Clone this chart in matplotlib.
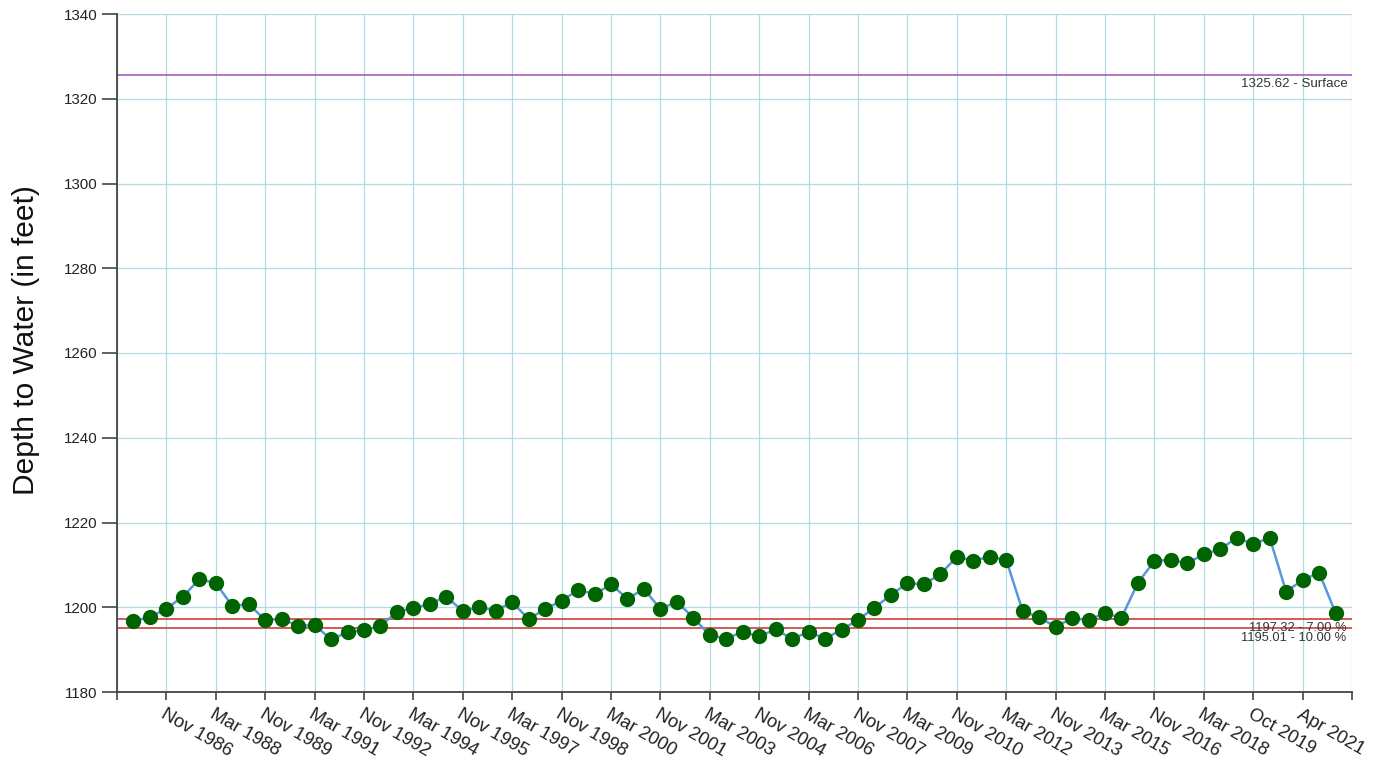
import matplotlib
matplotlib.use("Agg")
import matplotlib.pyplot as plt

plt.rcParams['font.family'] = ['Liberation Sans', 'DejaVu Sans']

# Semi-annual depth-to-water readings (feet), in measurement order
depth = [
    1196.8, 1197.6, 1199.7, 1202.5, 1206.6, 1205.7, 1200.3, 1200.7, 1197.0, 1197.2,
    1195.6, 1195.8, 1192.4, 1194.1, 1194.6, 1195.6, 1198.9, 1199.8, 1200.8, 1202.5,
    1199.1, 1200.1, 1199.2, 1201.2, 1197.2, 1199.6, 1201.5, 1204.1, 1203.1, 1205.4,
    1202.0, 1204.3, 1199.6, 1201.3, 1197.5, 1193.4, 1192.6, 1194.2, 1193.1, 1194.8,
    1192.5, 1194.2, 1192.6, 1194.7, 1197.0, 1199.9, 1202.9, 1205.7, 1205.4, 1207.8,
    1211.9, 1211.0, 1211.9, 1211.2, 1199.1, 1197.6, 1195.4, 1197.4, 1197.0, 1198.6,
    1197.5, 1205.8, 1210.9, 1211.2, 1210.4, 1212.5, 1213.7, 1216.4, 1214.9, 1216.4,
    1203.7, 1206.4, 1208.2, 1198.7,
]

tick_labels = [
    "Nov 1986", "Mar 1988", "Nov 1989", "Mar 1991", "Nov 1992", "Mar 1994",
    "Nov 1995", "Mar 1997", "Nov 1998", "Mar 2000", "Nov 2001", "Mar 2003",
    "Nov 2004", "Mar 2006", "Nov 2007", "Mar 2009", "Nov 2010", "Mar 2012",
    "Nov 2013", "Mar 2015", "Nov 2016", "Mar 2018", "Oct 2019", "Apr 2021",
]

# Reference levels: (value, label, colour)
ref_levels = [
    (1325.62, "1325.62 - Surface", "#a35fc2"),
    (1197.32, "1197.32 - 7.00 %", "#c9403a"),
    (1195.01, "1195.01 - 10.00 %", "#c9403a"),
]

y_ticks = list(range(1180, 1341, 20))

W, H = 1383, 766
fig = plt.figure(figsize=(W / 100, H / 100), dpi=100)
ax = fig.add_axes([117 / W, 1 - 692 / H, (1352 - 117) / W, (692 - 14) / H])

x = list(range(len(depth)))
ax.set_xlim(-1, len(depth))
ax.set_ylim(y_ticks[0], y_ticks[-1])

# Tick grid: a labelled tick every third reading, plus both axis ends
label_pos = [2 + 3 * k for k in range(len(tick_labels))]
xt = [-1] + label_pos + [len(depth)]
ax.set_xticks(xt)
ax.set_xticklabels([""] + tick_labels + [""], rotation=-30, ha="left", va="top",
                   rotation_mode="anchor", fontsize=13.3, color="#222222")
ax.set_yticks(y_ticks)
ax.set_yticklabels([str(v) for v in y_ticks], fontsize=10.9, color="#222222")

ax.grid(True, color="#b3d9e6", linewidth=0.9, zorder=0)
ax.set_axisbelow(True)

for side in ("top", "right"):
    ax.spines[side].set_visible(False)
for side in ("left", "bottom"):
    ax.spines[side].set_color("#444444")
    ax.spines[side].set_linewidth(1.3)

ax.tick_params(axis="y", direction="out", length=11, width=1.2, color="#444444", pad=3)
ax.tick_params(axis="x", direction="out", length=6, width=1.2, color="#444444", pad=4)

# Reference lines with right-aligned captions just below each line
for val, text, col in ref_levels:
    ax.axhline(val, color=col, linewidth=1.2, zorder=2)
for val, text, col in ref_levels:
    surface = "Surface" in text
    ax.annotate(text, xy=(1, val), xycoords=("axes fraction", "data"),
                xytext=(-3 if surface else -4, -2 if surface else -2.5),
                textcoords="offset points", ha="right", va="top",
                fontsize=9.6 if surface else 9.3, color="#333333", zorder=5)

ax.plot(x, depth, color="#5a96e0", linewidth=1.8, zorder=3)
ax.plot(x, depth, linestyle="none", marker="o", markersize=10,
        markerfacecolor="#006400", markeredgecolor="#006400", zorder=4)

fig.text(26 / W, 1 - 340 / H, "Depth to Water (in feet)", rotation=90,
         ha="center", va="center", fontsize=21.5, color="#111111")

fig.savefig("out.png", dpi=100, facecolor="white")
